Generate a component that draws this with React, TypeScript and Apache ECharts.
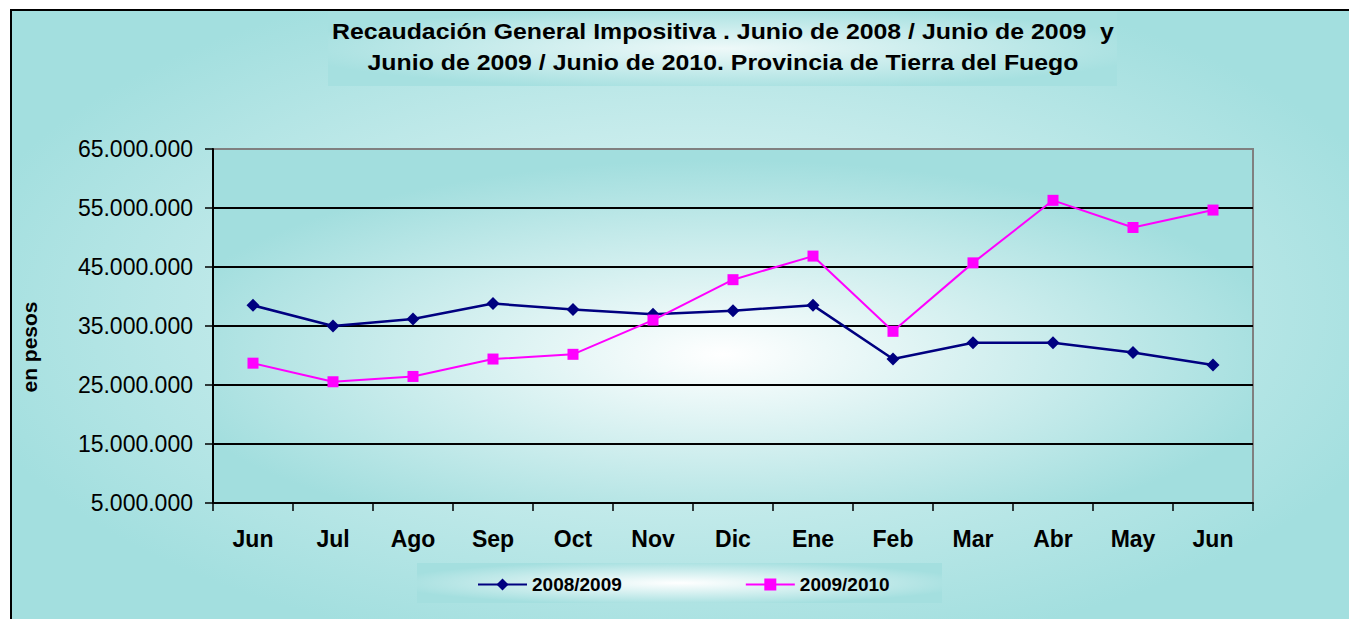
import React, { useEffect, useRef } from "react";
import * as echarts from "echarts";

const titleLines = [
  "Recaudación General Impositiva . Junio de 2008 / Junio de 2009  y",
  "Junio de 2009 / Junio de 2010. Provincia de Tierra del Fuego",
];
const yAxisTitle = "en pesos";
const categories = ["Jun", "Jul", "Ago", "Sep", "Oct", "Nov", "Dic", "Ene", "Feb", "Mar", "Abr", "May", "Jun"];
const seriesNames = ["2008/2009", "2009/2010"];
const serie2008_2009 = [
  38500000, 35000000, 36200000, 38800000, 37800000, 37000000, 37600000,
  38500000, 29400000, 32150000, 32150000, 30500000, 28400000,
];
const serie2009_2010 = [
  28700000, 25550000, 26450000, 29400000, 30200000, 36000000, 42850000,
  46850000, 34100000, 45700000, 56300000, 51700000, 54650000,
];
const yTicks = [5000000, 15000000, 25000000, 35000000, 45000000, 55000000, 65000000];

const FONT = '"Liberation Sans", Arial, Helvetica, sans-serif';

function fmt(v: number): string {
  return String(Math.round(v)).replace(/\B(?=(\d{3})+(?!\d))/g, ".");
}

function radial(cx: number, cy: number, r: number, inner: string, outer: string) {
  return new echarts.graphic.RadialGradient(cx, cy, r, [
    { offset: 0, color: inner },
    { offset: 1, color: outer },
  ]);
}

export default function App() {
  const ref = useRef<HTMLDivElement>(null);

  useEffect(() => {
    if (!ref.current) return;
    const chart = echarts.init(ref.current, undefined, { renderer: "svg" });
    const yMin = yTicks[0];
    const yMax = yTicks[yTicks.length - 1];

    const option: any = {
      animation: false,
      backgroundColor: "#ffffff",
      grid: {
        left: 213,
        right: 96,
        top: 149,
        bottom: 116,
        containLabel: false,
        show: true,
        backgroundColor: "transparent",
        borderColor: "#808080",
        borderWidth: 2,
      },
      graphic: {
        elements: [
          {
            type: "rect",
            z: -10,
            shape: { x: 11, y: 10, width: 1360, height: 640 },
            style: { fill: radial(0.5, 0.47, 0.55, "#eaf8f8", "#a3dfdf"), stroke: "#000", lineWidth: 2 },
          },
          {
            type: "rect",
            z: -9,
            shape: { x: 328, y: 11, width: 789, height: 75 },
            style: { fill: radial(0.5, 0.5, 0.55, "#eef9f9", "#a6e0e0") },
          },
          {
            type: "rect",
            z: -9,
            shape: { x: 417, y: 563, width: 525, height: 40 },
            style: { fill: radial(0.5, 0.5, 0.55, "#ffffff", "#a4dfdf") },
          },
          {
            type: "rect",
            z: -9,
            shape: { x: 213, y: 149, width: 1040, height: 354 },
            style: { fill: radial(0.49, 0.58, 0.55, "#ffffff", "#a2dede") },
          },
          {
            type: "text",
            z: 20,
            x: 723,
            y: 32,
            scaleX: 1.13,
            style: {
              text: titleLines[0],
              fontSize: 22,
              fontWeight: "bold",
              fontFamily: FONT,
              fill: "#000",
              textAlign: "center",
              textVerticalAlign: "middle",
            },
          },
          {
            type: "text",
            z: 20,
            x: 723,
            y: 63,
            scaleX: 1.13,
            style: {
              text: titleLines[1],
              fontSize: 22,
              fontWeight: "bold",
              fontFamily: FONT,
              fill: "#000",
              textAlign: "center",
              textVerticalAlign: "middle",
            },
          },
          {
            type: "text",
            z: 20,
            x: 29,
            y: 347,
            rotation: Math.PI / 2,
            style: {
              text: yAxisTitle,
              fontSize: 21,
              fontWeight: "bold",
              fontFamily: FONT,
              fill: "#000",
              textAlign: "center",
              textVerticalAlign: "middle",
            },
          },
        ],
      },
      legend: {
        data: seriesNames,
        left: 477,
        top: 575,
        padding: 0,
        itemWidth: 49,
        itemHeight: 15,
        itemGap: 123,
        textStyle: { fontSize: 19, fontWeight: "bold", fontFamily: FONT, color: "#000" },
      },
      xAxis: {
        type: "category",
        data: categories,
        boundaryGap: true,
        axisLine: { show: true, lineStyle: { color: "#000", width: 2 } },
        axisTick: { show: true, length: 8, inside: false, lineStyle: { color: "#000", width: 1.5 } },
        axisLabel: {
          interval: 0,
          margin: 24,
          fontSize: 23,
          fontWeight: "bold",
          fontFamily: FONT,
          color: "#000",
        },
        splitLine: { show: false },
      },
      yAxis: {
        type: "value",
        min: yMin,
        max: yMax,
        interval: 5000000,
        axisLine: { show: true, lineStyle: { color: "#000", width: 2 } },
        axisTick: {
          show: true,
          length: 8,
          inside: false,
          customValues: yTicks,
          lineStyle: { color: "#000", width: 1.5 },
        },
        axisLabel: {
          customValues: yTicks,
          margin: 20,
          fontSize: 23,
          fontFamily: FONT,
          color: "#000",
          formatter: (v: number) => (yTicks.indexOf(v) >= 0 ? fmt(v) : ""),
        },
        splitLine: {
          show: true,
          showMinLine: false,
          showMaxLine: false,
          lineStyle: { color: "#000", width: 2 },
        },
      },
      series: [
        {
          name: seriesNames[0],
          type: "line",
          data: serie2008_2009,
          symbol: "diamond",
          symbolSize: 13,
          z: 3,
          lineStyle: { color: "#000080", width: 2.5 },
          itemStyle: { color: "#000080" },
        },
        {
          name: seriesNames[1],
          type: "line",
          data: serie2009_2010,
          symbol: "rect",
          symbolSize: 11,
          z: 4,
          lineStyle: { color: "#ff00ff", width: 2 },
          itemStyle: { color: "#ff00ff" },
        },
      ],
    };

    chart.setOption(option);
    return () => {
      chart.dispose();
    };
  }, []);

  return (
    <div
      ref={ref}
      style={{ position: "absolute", left: 0, top: 0, width: 1349, height: 619 }}
    />
  );
}
